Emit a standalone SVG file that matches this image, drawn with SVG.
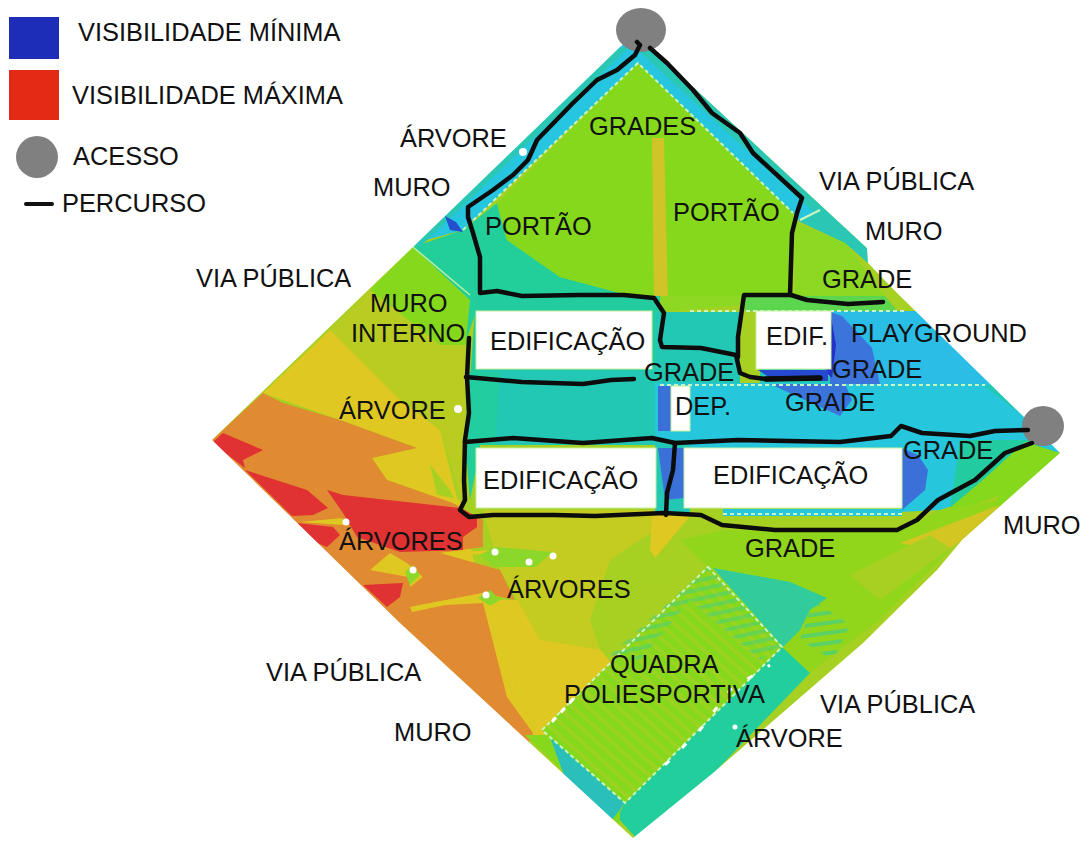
<svg xmlns="http://www.w3.org/2000/svg" width="1083" height="842" viewBox="0 0 1083 842">
<style>
text{font-family:"Liberation Sans",Arial,sans-serif;font-size:25.4px;fill:#111}
.p{fill:none;stroke:#0c0c0c;stroke-width:4.5;stroke-linejoin:round;stroke-linecap:round}
.b{fill:#fff;stroke:#c8f0a0;stroke-width:1}
.d{fill:none;stroke:#c8f5c0;stroke-width:2;stroke-dasharray:4 3}
</style>
<defs>
<clipPath id="site"><polygon points="641,30 620,47 413,247 212,440 400,623 633,838 713,773 863,643 937,570 962,540 1060,453 1024,417 897,293 868,263 867,248 650,47"/></clipPath>
<pattern id="hy" width="10" height="10" patternUnits="userSpaceOnUse" patternTransform="rotate(42)"><rect width="10" height="4" fill="#c8c824" opacity=".3"/></pattern>
<pattern id="ht" width="10" height="10" patternUnits="userSpaceOnUse" patternTransform="rotate(-8)"><rect width="10" height="4" fill="#30cc9c" opacity=".55"/></pattern>
<pattern id="hc" width="9" height="9" patternUnits="userSpaceOnUse" patternTransform="rotate(-12)"><rect width="9" height="4" fill="#30cc9c" opacity=".4"/></pattern>
<filter id="soft" x="0" y="0" width="100%" height="100%"><feGaussianBlur stdDeviation="0.7"/></filter>
</defs>
<rect width="1083" height="842" fill="#fff"/>
<g id="mapa" clip-path="url(#site)">
<g filter="url(#soft)">
<rect width="1083" height="842" fill="#a6d022"/>
<polygon fill="#86d81e" points="413,247 370,290 440,345 470,345 470,300"/>
<polygon fill="#b8cc22" points="370,290 330,330 400,400 440,430 465,510 470,345 440,345"/>
<polygon fill="#e0c820" points="330,330 263,393 340,420 417,448 450,490 460,510 440,430 400,400"/>
<polygon fill="#e0c820" points="372,458 425,445 438,498 387,480"/>
<polygon fill="#e0c820" points="483,600 540,745 400,640 212,440 460,500"/>
<polygon fill="#e0c820" points="483,600 560,600 625,680 540,745"/>
<polygon fill="#c4cc22" points="483,510 655,510 655,530 610,560 590,620 600,650 540,640 500,570"/>
<polygon fill="#e0c820" points="652,515 692,515 690,545 668,578 650,550"/>
<polygon fill="#e08a30" points="212,440 263,393 283,403 340,420 417,448 372,458 387,480 453,503 483,520 483,547 440,553 500,570 515,600 483,593 410,607 483,603 507,697 533,733 520,760 400,640"/>
<g fill="#e03030">
<polygon points="212,443 223,433 263,450 243,460 245,468"/>
<polygon points="245,470 307,490 328,508 313,515 292,516"/>
<polygon points="327,490 343,495 460,508 477,517 477,527 463,537 463,550 400,552 357,537 343,513"/>
<polygon points="297,523 333,527 340,535 327,547 317,543"/>
<polygon points="363,585 403,583 400,597 387,607"/>
</g>
<g fill="#e0c820">
<polygon points="300,522 343,518 343,525"/>
<polygon points="370,570 390,553 407,563 423,577 410,587 408,577"/>
<polygon points="410,607 483,593 483,597 412,612"/>
<polygon points="440,553 493,550 493,555"/>
</g>
<polygon fill="#8cd82a" points="480,555 495,547 553,552 535,567 495,567"/>
<polygon fill="#8cd82a" points="405,572 413,565 420,575 410,585"/>
<polygon fill="#8cd82a" points="478,598 490,590 500,600 490,606"/>
<!-- upper wedge -->
<polygon fill="#24cf9a" points="413,247 463,230 497,203 507,240 560,277 620,293 660,300 660,312 476,312 466,340 470,300"/>
<polygon fill="#86d81e" points="638,63 497,203 507,240 560,277 620,293 660,300 740,300 793,300 793,213"/>
<polygon fill="#d0c42a" points="652,138 664,138 668,300 654,300"/>
<polygon fill="#28c6e0" points="641,30 600,47 400,247 463,230 638,63 793,213 800,222 820,210 650,47"/>
<polygon fill="#2bc8b4" points="600,47 400,247 421,246 628,48"/>
<polygon fill="#2bc8b4" points="650,47 867,248 868,263 857,252 640,52"/>
<polygon fill="#2bc8b4" points="800,222 820,210 867,250 868,263 845,243"/>
<polygon fill="#8cd820" points="795,222 845,243 885,296 795,296"/>
<polygon fill="#8cd820" points="655,296 745,296 745,305 660,312"/>
<polygon fill="#2850d0" points="445,216 456,222 463,232 450,230"/>
<polygon fill="#24cf9a" points="470,345 480,345 480,450 470,500 465,440"/>
<polygon fill="#a8d022" points="465,345 477,345 476,372 484,400 476,440 465,440"/>
<!-- central band -->
<polygon fill="#24cc9e" points="476,296 660,296 660,312 740,312 740,380 470,380"/>
<polygon fill="#24c8b4" points="480,370 660,370 660,445 480,445"/>
<polygon fill="#24cea0" points="468,372 500,372 495,445 468,445"/>
<polygon fill="#24c8b4" points="655,312 740,312 740,385 655,385"/>
<polygon fill="#28c6dc" points="655,383 1000,383 1060,453 1005,470 975,480 900,450 655,448"/>
<polygon fill="#24c8b4" points="760,311 888,311 1024,417 1000,385 830,383 760,383"/>
<polygon fill="#5cd650" points="745,296 885,296 897,311 745,311"/>
<polygon fill="#2cbde6" points="830,311 950,311 1000,384 830,384"/>
<polygon fill="#3a74dc" points="830,312 842,316 872,348 880,384 830,384"/>
<polygon fill="#3a74dc" points="770,384 845,384 852,400 840,416"/>
<polygon fill="#2030c8" points="830,312 836,345 832,378 826,372"/>
<polygon fill="#2848d0" points="758,370 828,370 828,381 775,381"/>
<polygon fill="#3a70d8" points="658,386 671,386 671,431 658,431"/>
<polygon fill="#24c8b4" points="655,440 690,440 690,515 655,515"/>
<polygon fill="#3a70d8" points="658,448 684,448 684,498 665,500"/>
<polygon fill="#28c6dc" points="900,445 1030,436 1060,453 1000,490 940,510 900,512"/>
<polygon fill="#3a70d8" points="902,448 918,455 928,470 925,490 902,510"/>
<polygon fill="#24cca0" points="960,440 1045,440 985,478 950,510"/>
<polygon fill="#86d81e" points="1025,442 1060,453 1000,508 945,512 985,478"/>
<polygon fill="#28c6dc" points="723,509 902,509 902,516 723,516"/>
<!-- south-east -->
<polygon fill="#a6d022" points="690,516 900,532 1000,495 962,540 937,570 863,643 782,647 708,567 620,600"/>
<polygon fill="#92d61e" points="725,530 897,532 940,510 1000,500 960,540 880,620 800,680 782,647 708,567 680,540"/>
<polygon fill="#d4c624" points="900,543 1000,505 962,540 945,552"/>
<polygon fill="#a8d022" points="850,575 930,535 950,548 880,600"/>
<polygon fill="#a8d022" points="600,600 708,567 782,647 640,700"/>
<polygon fill="#30cc9c" points="713,568 790,582 827,598 810,610 800,630 783,647"/>
<polygon fill="url(#ht)" points="813,600 850,625 833,660 800,640"/>
<polygon fill="#24ce9c" points="782,647 810,673 710,777 636,838 617,817 625,803"/>
<polygon fill="#86d81e" points="525,735 555,735 620,810 620,825"/>
<polygon fill="#2abfb8" points="550,737 625,803 612,820 565,778"/>
<polygon fill="#86d81e" points="708,567 782,647 625,803 542,730"/>
<polygon fill="url(#hy)" points="708,567 782,647 625,803 542,730"/>
<polygon fill="url(#hc)" points="708,567 782,647 760,660 690,600 640,660 610,655"/>
</g>
<polygon class="d" points="708,567 782,647 625,803 542,730"/>
<polyline class="d" points="463,230 638,63 793,213"/>
<line x1="413" y1="247" x2="470" y2="295" stroke="#b8f0a0" stroke-width="1.5"/>
<line x1="800" y1="220" x2="820" y2="210" stroke="#c8f5c0" stroke-width="2"/>
<line class="d" x1="660" y1="385" x2="985" y2="385"/>
<line class="d" x1="723" y1="514" x2="902" y2="514"/>
<line class="d" x1="690" y1="311" x2="905" y2="311"/>
<polyline fill="none" stroke="#fff" stroke-width="3" stroke-dasharray="6 7" points="552,722 575,697"/>
<polyline fill="none" stroke="#fff" stroke-width="3" stroke-dasharray="6 18" points="665,765 700,730 730,690 770,665"/>
</g>
<g id="edificacoes">
<rect class="b" x="476" y="311" width="176" height="58"/>
<rect class="b" x="756" y="311" width="75" height="58"/>
<rect class="b" x="671" y="386" width="19" height="45"/>
<rect class="b" x="476" y="448" width="180" height="60"/>
<rect class="b" x="684" y="448" width="218" height="60"/>
</g>
<g id="arvores" fill="#fff">
<circle cx="523" cy="152" r="4"/><circle cx="458" cy="409" r="4"/><circle cx="346" cy="522" r="3.5"/>
<circle cx="413" cy="570" r="3.5"/><circle cx="495" cy="552" r="3.5"/><circle cx="529" cy="562" r="3.5"/>
<circle cx="553" cy="556" r="3.5"/><circle cx="486" cy="595" r="3.5"/><circle cx="735" cy="727" r="2.5"/>
</g>
<g id="acessos" fill="#808080">
<ellipse cx="641" cy="30" rx="25" ry="22"/>
<ellipse cx="1043" cy="426" rx="21" ry="20"/>
</g>
<g id="conectores">
<polyline class="p" points="637,42 640,45 635,55 617,70 597,80 573,103 537,140 528,160 513,175 493,190 468,207 468,217 473,233 480,257 480,293 497,291 522,296 579,295 624,295 654,298 664,313 660,340 662,347 701,348 736,355 740,373 750,377 766,379 820,378"/>
<polyline class="p" points="738,357 738,337 744,295 791,295 807,300 848,304 883,302"/>
<polyline class="p" points="650,48 667,63 693,90 712,113 740,133 753,153 802,198 797,213 792,233 790,295"/>
<polyline class="p" points="469,338 467,377 469,413 465,440 464,480 465,500 460,510 469,517 493,515 554,515 595,516 664,513 701,515 722,525 775,530 897,530 917,520 938,500 975,480 1005,453 1032,443"/>
<polyline class="p" points="466,377 522,382 583,384 611,380 634,379"/>
<polyline class="p" points="465,442 513,438 583,443 652,438 675,443 738,440 840,442 891,436 901,426 922,433 970,436 995,431 1028,430"/>
<polyline class="p" points="675,443 673,470 667,493 666,515"/>
<polyline class="p" style="stroke-width:5.5" points="766,379 820,378"/>
</g>
<g id="legenda">
<rect x="9" y="17" width="50" height="42" fill="#1e2db8"/>
<rect x="9" y="70" width="50" height="50" fill="#e22a14"/>
<circle cx="37" cy="157" r="21" fill="#808080"/>
<line x1="26" y1="204" x2="52" y2="204" stroke="#111" stroke-width="4" stroke-linecap="round"/>
<text x="78" y="41">VISIBILIDADE MÍNIMA</text>
<text x="72" y="104">VISIBILIDADE MÁXIMA</text>
<text x="73" y="165">ACESSO</text>
<text x="62" y="212">PERCURSO</text>
</g>
<g id="rotulos">
<text x="400" y="147">ÁRVORE</text>
<text x="373" y="196">MURO</text>
<text x="589" y="135">GRADES</text>
<text x="485" y="235">PORTÃO</text>
<text x="673" y="221">PORTÃO</text>
<text x="819" y="190">VIA PÚBLICA</text>
<text x="865" y="240">MURO</text>
<text x="822" y="288">GRADE</text>
<text x="196" y="287">VIA PÚBLICA</text>
<text x="370" y="312">MURO</text>
<text x="351" y="342">INTERNO</text>
<text x="490" y="350">EDIFICAÇÃO</text>
<text x="766" y="345">EDIF.</text>
<text x="851" y="342">PLAYGROUND</text>
<text x="644" y="381">GRADE</text>
<text x="832" y="378">GRADE</text>
<text x="675" y="415">DEP.</text>
<text x="785" y="411">GRADE</text>
<text x="339" y="419">ÁRVORE</text>
<text x="903" y="459">GRADE</text>
<text x="483" y="489">EDIFICAÇÃO</text>
<text x="713" y="484">EDIFICAÇÃO</text>
<text x="1003" y="534">MURO</text>
<text x="339" y="550">ÁRVORES</text>
<text x="745" y="557">GRADE</text>
<text x="507" y="598">ÁRVORES</text>
<text x="610" y="673">QUADRA</text>
<text x="564" y="703">POLIESPORTIVA</text>
<text x="266" y="681">VIA PÚBLICA</text>
<text x="820" y="713">VIA PÚBLICA</text>
<text x="736" y="747">ÁRVORE</text>
<text x="394" y="741">MURO</text>
</g>
</svg>
